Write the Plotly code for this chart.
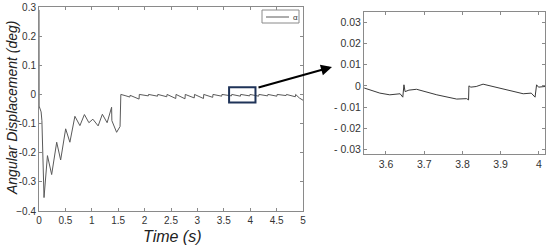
import plotly.graph_objects as go

# main response
t_main = [0.0, 0.002, 0.04, 0.055, 0.095, 0.16, 0.24, 0.335, 0.41, 0.505, 0.585,
          0.68, 0.775, 0.86, 0.945, 1.02, 1.12, 1.2, 1.29, 1.375, 1.38, 1.47, 1.535,
          1.55, 1.63, 1.72, 1.725, 1.81, 1.895, 1.9, 1.98, 2.07, 2.075, 2.16, 2.245,
          2.25, 2.33, 2.42, 2.425, 2.51, 2.59, 2.595, 2.68, 2.765, 2.77, 2.85, 2.94,
          2.945, 3.03, 3.115, 3.12, 3.2, 3.29, 3.295, 3.38, 3.46, 3.465, 3.55, 3.645,
          3.65, 3.73, 3.815, 3.82, 3.9, 3.99, 3.995, 4.08, 4.16, 4.165, 4.25, 4.33,
          4.335, 4.42, 4.505, 4.51, 4.59, 4.68, 4.685, 4.77, 4.855, 4.86, 4.93, 5.0]
v_main = [0.29, -0.04, -0.06, -0.09, -0.354, -0.21, -0.275, -0.164, -0.225, -0.118, -0.164,
          -0.075, -0.107, -0.069, -0.097, -0.085, -0.108, -0.068, -0.097, -0.044, -0.09, -0.13, -0.11,
          0.0, -0.004, -0.009, -0.003, -0.01, -0.016, 0.0, -0.002, -0.005, 0.0, -0.003, -0.006,
          0.0, -0.004, -0.008, 0.0, -0.007, -0.014, 0.0, -0.008, -0.015, 0.0, -0.005, -0.012,
          0.0, -0.007, -0.014, 0.0, -0.004, -0.01, 0.0, -0.003, -0.006, 0.0, -0.002, -0.005,
          0.0, -0.003, -0.006, 0.0, -0.002, -0.005, 0.0, -0.003, -0.006, 0.0, -0.002, -0.005,
          0.0, -0.003, -0.006, 0.0, -0.002, -0.004, 0.0, -0.004, -0.008, 0.0, -0.012, -0.02]

# zoomed detail 3.54 - 4.02 s
t_zoom = [3.543, 3.584, 3.61, 3.637, 3.644, 3.647, 3.65, 3.66, 3.68, 3.733, 3.785, 3.811,
          3.816, 3.817, 3.822, 3.836, 3.854, 3.907, 3.959, 3.98, 3.99, 3.994, 3.999, 4.016]
v_zoom = [-0.001, -0.0034, -0.0042, -0.0037, -0.0053, 0.0005, -0.0027, -0.002, -0.0016, -0.0042,
          -0.0062, -0.006, -0.0066, 0.0, -0.0006, -0.0003, 0.0008, -0.0016, -0.0037, -0.0034,
          -0.0053, 0.0005, -0.0006, -0.0003]

x_ticks_main = [0, 0.5, 1, 1.5, 2, 2.5, 3, 3.5, 4, 4.5, 5]
x_labels_main = ["0", "0.5", "1", "1.5", "2", "2.5", "3", "3.5", "4", "4.5", "5"]
y_ticks_main = [-0.4, -0.3, -0.2, -0.1, 0, 0.1, 0.2, 0.3]
y_labels_main = ["\u22120.4", "-0.3", "-0.2", "-0.1", "0", "0.1", "0.2", "0.3"]
x_ticks_zoom = [3.6, 3.7, 3.8, 3.9, 4.0]
x_labels_zoom = ["3.6", "3.7", "3.8", "3.9", "4"]
y_ticks_zoom = [-0.03, -0.02, -0.01, 0, 0.01, 0.02, 0.03]
y_labels_zoom = ["- 0.03", "- 0.02", "- 0.01", "0", "0.01", "0.02", "0.03"]

W, H = 550, 248
FONT = "Liberation Sans, Arial, sans-serif"

fig = go.Figure()
fig.add_trace(go.Scatter(x=t_main, y=v_main, mode="lines", name="\u03b1",
                         line=dict(color="#5a5a5a", width=1), xaxis="x", yaxis="y"))
fig.add_trace(go.Scatter(x=t_zoom, y=v_zoom, mode="lines",
                         line=dict(color="#3a3a3a", width=1), xaxis="x2", yaxis="y2"))

axis_common = dict(showline=True, linecolor="#8a8a8a", linewidth=1, mirror="ticks",
                   ticks="inside", ticklen=3, tickcolor="#8a8a8a", showgrid=False,
                   zeroline=False, automargin=False)

fig.update_layout(
    width=W, height=H,
    margin=dict(l=0, r=0, t=0, b=0, autoexpand=False),
    paper_bgcolor="white", plot_bgcolor="white",
    font=dict(family=FONT),
    showlegend=False,
    xaxis=dict(domain=[39 / W, 303 / W], range=[0, 5], tickvals=x_ticks_main,
               ticktext=x_labels_main, anchor="y",
               tickfont=dict(family=FONT, size=10, color="#333333"), **axis_common),
    yaxis=dict(domain=[1 - 211 / H, 1 - 7 / H], range=[-0.4, 0.3], tickvals=y_ticks_main,
               ticktext=y_labels_main, anchor="x",
               tickfont=dict(family=FONT, size=10, color="#333333"), **axis_common),
    xaxis2=dict(domain=[364 / W, 545 / W], range=[3.5425, 4.016], tickvals=x_ticks_zoom,
                ticktext=x_labels_zoom, anchor="y2",
                tickfont=dict(family=FONT, size=10.5, color="#333333"), **axis_common),
    yaxis2=dict(domain=[1 - 154 / H, 1 - 12 / H], range=[-0.032, 0.0347], tickvals=y_ticks_zoom,
                ticktext=y_labels_zoom, anchor="x2",
                tickfont=dict(family=FONT, size=10.5, color="#333333"), **axis_common),
)

# small legend box drawn by hand (plotly's own legend is too tall here)
fig.add_shape(type="rect", xref="paper", yref="paper",
              x0=262 / W, x1=299 / W, y0=1 - 23 / H, y1=1 - 10 / H,
              line=dict(color="#8a8a8a", width=1), fillcolor="white")
fig.add_shape(type="line", xref="paper", yref="paper",
              x0=266 / W, x1=289 / W, y0=1 - 17 / H, y1=1 - 17 / H,
              line=dict(color="#5a5a5a", width=1))
fig.add_annotation(xref="paper", yref="paper", x=291 / W, y=1 - 17 / H,
                   xanchor="left", yanchor="middle", text="\u03b1", showarrow=False,
                   font=dict(family=FONT, size=8, color="#333333"))

# zoom window on the main plot
fig.add_shape(type="rect", xref="x", yref="y", x0=3.6, x1=4.1, y0=-0.028, y1=0.025,
              line=dict(color="#1f3358", width=2))

# arrow to the inset
fig.add_annotation(xref="paper", yref="paper", axref="pixel", ayref="pixel",
                   x=332 / W, y=1 - 67 / H, ax=-75, ay=21,
                   text="", showarrow=True, arrowhead=2, arrowsize=1.1,
                   arrowwidth=2, arrowcolor="black")

# axis titles
fig.add_annotation(xref="paper", yref="paper", x=172 / W, y=1 - 236 / H,
                   xanchor="center", yanchor="middle",
                   text="<i>Time (s)</i>", showarrow=False,
                   font=dict(family=FONT, size=16, color="#222222"))
fig.add_annotation(xref="paper", yref="paper", x=12 / W, y=1 - 108 / H,
                   xanchor="center", yanchor="middle",
                   text="<i>Angular Displacement (deg)</i>", showarrow=False, textangle=-90,
                   font=dict(family=FONT, size=14, color="#222222"))

# drop the page's default body margin so the figure sits at the window corner
fig.write_html("out.html", config={"displayModeBar": False},
               post_script="document.body.style.margin='0';")
